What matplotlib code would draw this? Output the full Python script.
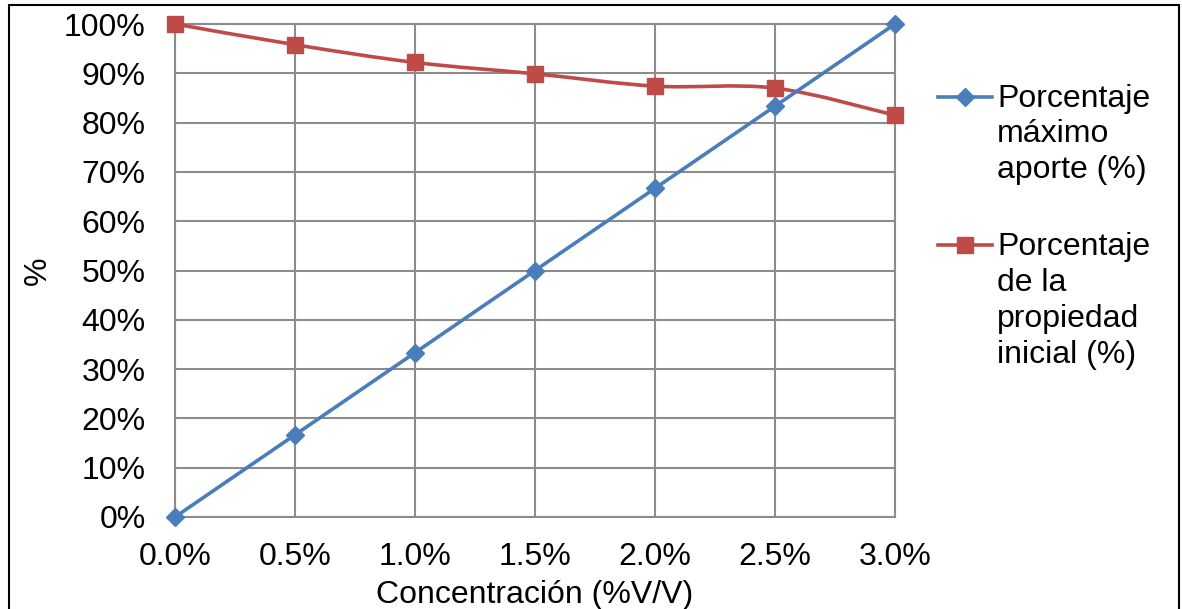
import numpy as np
import matplotlib.pyplot as plt
from matplotlib.path import Path
from matplotlib.patches import PathPatch, Rectangle
from matplotlib.lines import Line2D

plt.rcParams['font.family'] = ['Liberation Sans', 'DejaVu Sans']

# data
concentracion = [0.0, 0.5, 1.0, 1.5, 2.0, 2.5, 3.0]
max_aporte = [0.0, 16.67, 33.33, 50.0, 66.67, 83.33, 100.0]
prop_inicial = [100.0, 95.8, 92.2, 89.9, 87.4, 87.0, 81.5]
x_ticks = [0.0, 0.5, 1.0, 1.5, 2.0, 2.5, 3.0]
y_ticks = list(range(0, 101, 10))

blue = '#4a7ebb'
red = '#be4b48'
grid_c = '#8c8c8c'
fs = 23


def smooth_path(xs, ys):
    # Excel-style smoothed line as cubic bezier segments
    pts = np.column_stack([xs, ys])
    n = len(pts)
    verts = [pts[0]]
    codes = [Path.MOVETO]
    for i in range(n - 1):
        p0 = pts[i - 1] if i > 0 else pts[i]
        p1 = pts[i]
        p2 = pts[i + 1]
        p3 = pts[i + 2] if i + 2 < n else pts[i + 1]
        c1 = p1 + (p2 - p0) / 6
        c2 = p2 - (p3 - p1) / 6
        verts += [c1, c2, p2]
        codes += [Path.CURVE4] * 3
    return Path(verts, codes)


fig = plt.figure(figsize=(11.82, 6.09), dpi=100)
ax = fig.add_axes([175 / 1182, 1 - 517 / 609, 720 / 1182, 493 / 609])

ax.add_patch(PathPatch(smooth_path(concentracion, prop_inicial), fill=False,
                       edgecolor=red, lw=2.6, zorder=3))
ax.plot(concentracion, prop_inicial, ls='none', marker='s', ms=11,
        color=red, zorder=4, clip_on=False)
ax.plot(concentracion, max_aporte, color=blue, lw=2.6, marker='D', ms=9,
        zorder=5, clip_on=False)

ax.set_xlim(0, 3.0)
ax.set_ylim(0, 100)
ax.set_xticks(x_ticks)
ax.set_xticklabels([f'{v:.1f}%' for v in x_ticks])
ax.set_yticks(y_ticks)
ax.set_yticklabels([f'{v}%' for v in y_ticks])
ax.tick_params(length=0, labelsize=fs)
ax.tick_params(axis='y', pad=21)
ax.tick_params(axis='x', pad=18)
ax.grid(True, color=grid_c, lw=1.5)
ax.set_axisbelow(True)
for s in ax.spines.values():
    s.set_color(grid_c)
    s.set_linewidth(1.5)

ax.set_xlabel('Concentración (%V/V)', fontsize=fs, labelpad=6)
ax.set_ylabel('%', fontsize=fs, labelpad=8)

# legend drawn by hand so the marker sits on the first text line
legend_items = [
    (blue, 'D', 9, 'Porcentaje\nmáximo\naporte (%)', 97, 134.5),
    (red, 's', 11, 'Porcentaje\nde la\npropiedad\ninicial (%)', 245, 301),
]
for col, mk, size, label, y_line, y_mid in legend_items:
    yf = 1 - y_line / 609
    fig.add_artist(Line2D([938 / 1182, 992 / 1182], [yf, yf], color=col, lw=2.6,
                          transform=fig.transFigure))
    fig.add_artist(Line2D([965 / 1182], [yf], color=col, marker=mk, ms=size,
                          transform=fig.transFigure))
    fig.text(997 / 1182, 1 - y_mid / 609, label, fontsize=fs, va='center',
             ha='left', linespacing=1.25)

fig.add_artist(Rectangle((9 / 1182, -0.02), 1170 / 1182, 1.02 - 5 / 609,
                         fill=False, edgecolor='black', lw=1.5,
                         transform=fig.transFigure))

fig.savefig('out.png', dpi=100)
